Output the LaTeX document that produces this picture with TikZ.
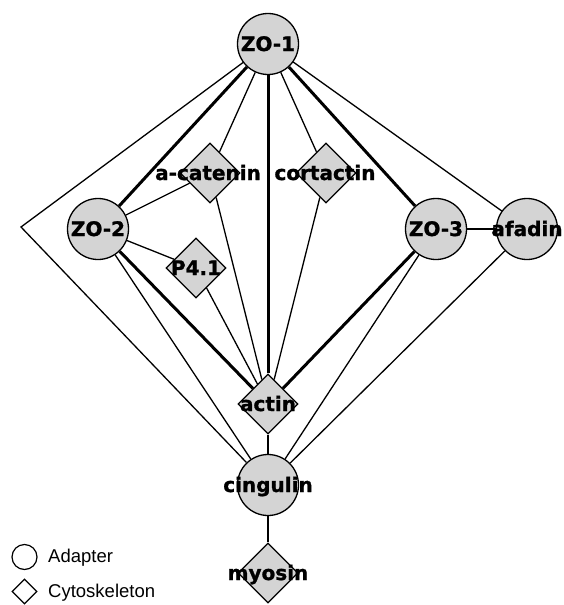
\documentclass[tikz,border=0pt]{standalone}
\usepackage{fontspec}
\setmainfont{Liberation Sans}
\newfontfamily\nodefont{DejaVu Sans}[BoldFeatures={FakeBold=1.2}]
\usetikzlibrary{shapes.geometric,backgrounds}
\definecolor{nodegray}{HTML}{D4D4D4}
\tikzset{
  adapter/.style={circle,draw=black,line width=1.3pt,fill=nodegray,minimum size=61pt,inner sep=0pt},
  cyto/.style={diamond,draw=black,line width=1.3pt,fill=nodegray,minimum width=60pt,minimum height=60pt,inner sep=0pt},
  lbl/.style={anchor=base,inner sep=0pt,font=\nodefont\bfseries\fontsize{20}{24}\selectfont},
  thin edge/.style={line width=1.3pt},
  thick edge/.style={line width=3pt},
  legadapter/.style={circle,draw=black,line width=1.2pt,minimum size=25pt,inner sep=0pt},
  legcyto/.style={diamond,draw=black,line width=1.2pt,minimum width=25pt,minimum height=25pt,inner sep=0pt},
  legtext/.style={anchor=base west,inner sep=0pt,font=\fontsize{18.5}{22}\selectfont}
}
\begin{document}
\begin{tikzpicture}[x=1pt,y=-1pt]
\useasboundingbox (0,0) rectangle (563,605);
% nodes
\node[adapter] (zo1) at (268,44) {};
\node[adapter] (zo2) at (98,229) {};
\node[adapter] (zo3) at (436,229) {};
\node[adapter] (afadin) at (527,229) {};
\node[cyto] (acat) at (210,173) {};
\node[cyto] (cort) at (326,173) {};
\node[cyto] (p41) at (196,268) {};
\node[cyto] (actin) at (268,404) {};
\node[adapter] (cing) at (268,485) {};
\node[cyto] (myosin) at (268,573) {};
\coordinate (bend) at (21,227);
% edges
\begin{scope}[on background layer]
\draw[thin edge] (zo1) -- (bend) -- (cing);
\draw[thick edge] (zo1) -- (zo2);
\draw[thin edge] (zo1) -- (acat);
\draw[thick edge] (zo1) -- (actin);
\draw[thin edge] (zo1) -- (cort);
\draw[thick edge] (zo1) -- (zo3);
\draw[thin edge] (zo1) -- (afadin);
\draw[thin edge] (zo2) -- (acat);
\draw[thin edge] (zo2) -- (p41);
\draw[thick edge] (zo2) -- (actin);
\draw[thin edge] (zo2) -- (cing);
\draw[thin edge] (acat) -- (actin);
\draw[thin edge] (p41) -- (actin);
\draw[thin edge] (cort) -- (actin);
\draw[thin edge] (zo3) -- (afadin);
\draw[thick edge] (zo3) -- (actin);
\draw[thin edge] (zo3) -- (cing);
\draw[thin edge] (afadin) -- (cing);
\draw[thin edge] (actin) -- (cing);
\draw[thin edge] (cing) -- (myosin);
\end{scope}
% labels
\node[lbl] (zo1-t) at (268,51) {ZO-1};
\node[lbl] (zo2-t) at (98,236) {ZO-2};
\node[lbl] (zo3-t) at (436,236) {ZO-3};
\node[lbl] (afadin-t) at (527,236) {afadin};
\node[lbl] (acat-t) at (208,180) {a-catenin};
\node[lbl] (cort-t) at (325,180) {cortactin};
\node[lbl] (p41-t) at (196,275) {P4.1};
\node[lbl] (actin-t) at (268,411) {actin};
\node[lbl] (cing-t) at (268,492) {cingulin};
\node[lbl] (myosin-t) at (268,580) {myosin};
% legend
\node[legadapter] (leg1) at (24.5,557) {};
\node[legtext] (leg1-t) at (48,562.5) {Adapter};
\node[legcyto] (leg2) at (24.5,591.5) {};
\node[legtext] (leg2-t) at (48,597.5) {Cytoskeleton};
\end{tikzpicture}
\end{document}
